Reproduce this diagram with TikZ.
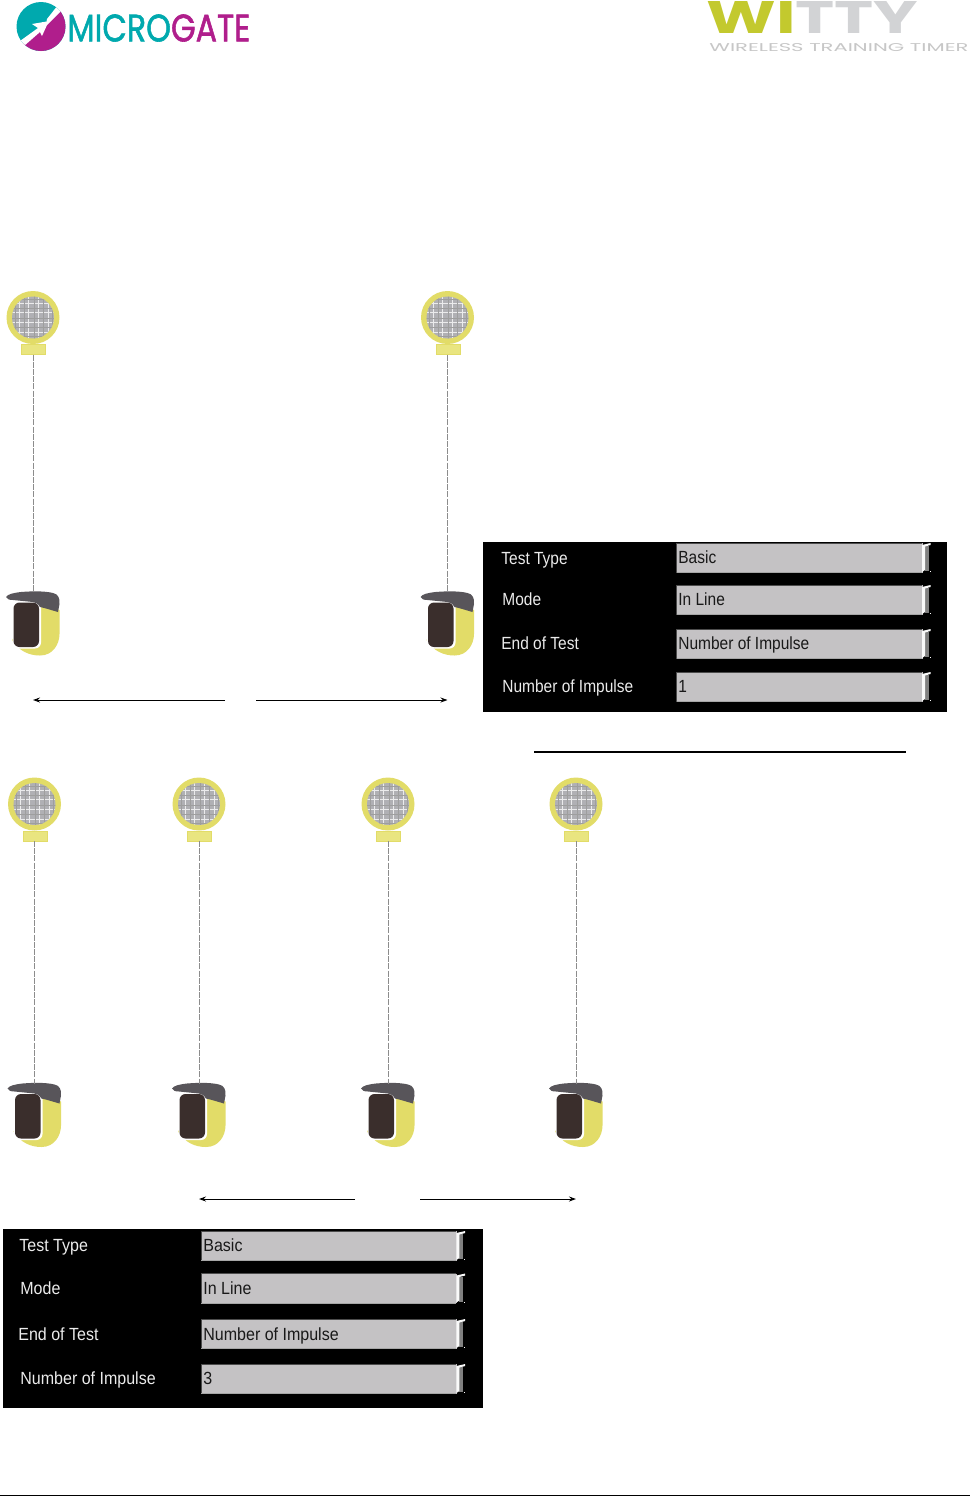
\documentclass[tikz,border=0pt]{standalone}
\usepackage{fontspec}
\usetikzlibrary{arrows.meta}
\setmainfont{Liberation Sans}
\newfontfamily\logofont{Poppins}
\newfontfamily\logoheavy[FakeBold=1.6]{Poppins}
\newfontfamily\panelfont[FakeStretch=0.88]{Liberation Sans}
\newfontfamily\panelwide[FakeStretch=0.91]{Liberation Sans}
\definecolor{teal1}{HTML}{00A9AE}
\definecolor{mag1}{HTML}{B01E8C}
\definecolor{olive1}{HTML}{C3C92E}
\definecolor{grey1}{HTML}{D2D3D5}
\definecolor{yel1}{HTML}{E2DC68}
\definecolor{yel2}{HTML}{E9E580}
\definecolor{capc}{HTML}{58555A}
\definecolor{winc}{HTML}{3A2E2C}
\definecolor{fieldc}{HTML}{C4C2C4}
\definecolor{meshc}{HTML}{B0B0B4}
\tikzset{
  x=0.5pt,y=-0.5pt,
  beam/.style={draw=black!45,line width=0.5pt,dash pattern=on 3pt off 0.6pt},
  flow/.style={draw=black,line width=0.5pt,-{Stealth[length=3.5pt,width=2.5pt]}},
  panel/.style={fill=black,draw=none},
  lab/.style={anchor=base west,inner sep=0pt,text=white!92!black,font=\panelfont\fontsize{8.8}{10}\selectfont},
  val/.style={anchor=base west,inner sep=0pt,text=black!90,font=\panelfont\fontsize{8.8}{10}\selectfont},
  labw/.style={lab,font=\panelwide\fontsize{8.8}{10}\selectfont},
  valw/.style={val,font=\panelwide\fontsize{8.8}{10}\selectfont},
  sensor/.pic={
    \fill[yel2,draw=yel1,line width=0.4pt] (-11.5,27) rectangle (12.5,37);
    \fill[yel1] (0,0) circle[radius=26.5];
    \fill[meshc] (0,0) circle[radius=21];
    \begin{scope}
      \clip (0,0) circle[radius=21];
      \foreach \k in {-14,-5,5,15}{
        \draw[white!75!meshc,line width=0.3pt] (\k,-22) -- (\k,22);
        \draw[white!75!meshc,line width=0.3pt] (-22,\k) -- (22,\k);
      }
      \foreach \k in {-18,-9,1,10,19}{
        \draw[black!38,line width=0.25pt] (\k,-22) -- (\k,22);
        \draw[black!38,line width=0.25pt] (-22,\k) -- (22,\k);
      }
    \end{scope}
    \coordinate (-b) at (0,37);
  },
  photocell/.pic={
    \fill[yel1] (-21,48) .. controls (-14,59) and (-4,63.5) .. (7,63.5)
      .. controls (20,63.5) and (26.5,52) .. (26.5,42) -- (26.5,18) -- (5,10) -- cycle;
    \fill[white,rounded corners=3pt] (-20.5,9) rectangle (8,56.5);
    \fill[winc,rounded corners=3pt] (-19.5,10.5) rectangle (6,55);
    \fill[capc] (-27,5) .. controls (-25,2) and (-20,1) .. (-12,0)
      .. controls (0,-1) and (12,-1) .. (20,1)
      .. controls (25,2) and (27,6) .. (26.5,12)
      -- (25,20) .. controls (18,18) and (12,16) .. (7,15)
      .. controls (5,12) and (3,10) .. (0,10)
      -- (-20,8) .. controls (-24,8) and (-26,7) .. (-27,5) -- cycle;
    \coordinate (-t) at (0,0);
  },
  field/.pic={
    \fill[fieldc] (0,0) rectangle (246,29.5);
    \draw[black!70,line width=0.5pt] (0,29.5) -- (0,0) -- (245,0);
    \draw[black!35,line width=0.5pt] (0,29.5) -- (245,29.5);
    \fill[black!50] (248,3) rectangle (252,28);
    \fill[white!90!fieldc] (245.5,2) -- (254,0) -- (254,2) -- (248.5,3.5) -- (248.5,27) -- (245.5,29) -- cycle;
    \fill[white] (253,28) rectangle (254,29);
  }
}
\begin{document}
\begin{tikzpicture}
\useasboundingbox[fill=white] (0,0) rectangle (970,1496);
% Microgate logo
\fill[teal1] (41,26.5) circle[radius=24.5];
\begin{scope}
  \clip (41,26.5) circle[radius=24.5];
  \fill[mag1] (66,6) -- (70,60) -- (10,60) -- (22,44) -- cycle;
  \fill[white] (58,5) -- (47,19) -- (46.5,21.5) -- (32,24) -- (38,28) -- (20,41) -- (24,46) -- (40,32) -- (42,36) -- (47,25) -- (63,9) -- cycle;
\end{scope}
\node (mg) at (67,14) [anchor=north west,inner sep=0pt] {\resizebox{91.5pt}{13.5pt}{\logoheavy\textcolor{teal1}{MICRO}\textcolor{mag1}{GATE}}};
% Witty logo
\node (wt) at (706,1) [anchor=north west,inner sep=0pt] {\resizebox{106pt}{16pt}{\logofont\bfseries\textcolor{olive1}{WI}\textcolor{grey1}{TTY}}};
\node (ws) at (709,43) [anchor=north west,inner sep=0pt] {\resizebox{129.5pt}{4pt}{\logofont\textcolor{black!22}{WIRELESS TRAINING TIMER}}};
% Row 1
\foreach \n/\cx in {a/33,b/447.5}{
  \pic (s\n) at (\cx,317.5) {sensor};
  \pic (c\n) at (\cx,592) {photocell};
  \draw[beam] (s\n-b) -- (c\n-t);
}
\coordinate (f1a) at (225,700); \coordinate (t1a) at (33,700);
\coordinate (f1b) at (256,700); \coordinate (t1b) at (447.5,700);
\draw[flow] (f1a) -- (t1a);
\draw[flow] (f1b) -- (t1b);
% Panel 1
\fill[panel] (483,542) rectangle (947,712);
\foreach \y in {543,585,629,672}{ \pic at (676.5,\y) {field}; }
\node[lab] (l1) at (501,564) {Test Type};
\node[lab] (l2) at (502,605) {Mode};
\node[lab] (l3) at (501,649.5) {End of Test};
\node[lab] (l4) at (502,692.5) {Number of Impulse};
\node[val] (v1) at (678,563.5) {Basic};
\node[val] (v2) at (678,605) {In Line};
\node[val] (v3) at (678,649.5) {Number of Impulse};
\node[val] (v4) at (678,692) {1};
% Rule
\coordinate (ra) at (534,752); \coordinate (rb) at (906,752);
\draw[black,line width=1pt] (ra) -- (rb);
% Row 2
\foreach \n/\cx in {d/34.5,e/199,f/388,g/576}{
  \pic (s\n) at (\cx,804) {sensor};
  \pic (c\n) at (\cx,1083.5) {photocell};
  \draw[beam] (s\n-b) -- (c\n-t);
}
\coordinate (f2a) at (355,1199); \coordinate (t2a) at (199,1199);
\coordinate (f2b) at (420,1199); \coordinate (t2b) at (576,1199);
\draw[flow] (f2a) -- (t2a);
\draw[flow] (f2b) -- (t2b);
% Panel 2
\fill[panel] (3,1229) rectangle (483,1408);
\foreach \y in {1231,1273.5,1319,1364}{ \pic[xscale=1.04] at (201,\y) {field}; }
\node[labw] (m1) at (19,1251) {Test Type};
\node[labw] (m2) at (20,1294) {Mode};
\node[labw] (m3) at (18,1340) {End of Test};
\node[labw] (m4) at (20,1384) {Number of Impulse};
\node[valw] (w1) at (203,1251) {Basic};
\node[valw] (w2) at (203,1294) {In Line};
\node[valw] (w3) at (203,1340) {Number of Impulse};
\node[valw] (w4) at (203,1384) {3};
% Footer rule
\coordinate (ba) at (0,1495.5); \coordinate (bb) at (970,1495.5);
\draw[black,line width=0.5pt] (ba) -- (bb);
\end{tikzpicture}
\end{document}
